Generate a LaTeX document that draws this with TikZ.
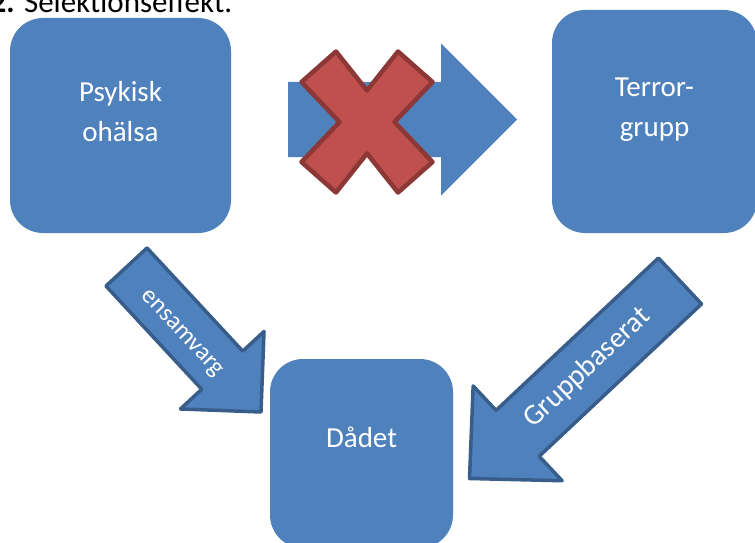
\documentclass[tikz,border=0pt]{standalone}
\usepackage{fontspec}
\setmainfont{Carlito}
\usetikzlibrary{calc}

\definecolor{blaa}{HTML}{4F81BD}
\definecolor{moerkblaa}{HTML}{385D8A}
\definecolor{roed}{HTML}{C0504D}
\definecolor{moerkroed}{HTML}{8C3836}

% blockpil: stil, svans, spets, halv skaftbredd, halv huvudbredd, huvudlangd
\newcommand{\blokpil}[6]{%
  \coordinate (hb) at ($(#3)!#6!(#2)$);
  \draw[#1] ($(#2)!#4!90:(#3)$) -- ($(hb)!#4!90:(#3)$) -- ($(hb)!#5!90:(#3)$) -- (#3)
        -- ($(hb)!#5!-90:(#3)$) -- ($(hb)!#4!-90:(#3)$) -- ($(#2)!#4!-90:(#3)$) -- cycle;}

\begin{document}
\begin{tikzpicture}[x=1pt,y=-1pt,
    ruta/.style={rectangle,rounded corners=33pt,fill=blaa,draw=none,inner sep=0pt},
    rutetext/.style={text=white,align=center,font=\fontsize{29}{40}\selectfont},
    pil/.style={fill=blaa,draw=moerkblaa,line width=3.5pt,line join=round},
    pilplat/.style={fill=blaa,draw=none},
    kryss/.style={fill=roed,draw=moerkroed,line width=4.5pt,line join=round},
    piltext/.style={text=white,inner sep=0pt,font=\fontsize{#1}{#1}\selectfont}]
  \useasboundingbox (0,0) rectangle (755,543);

  \node[anchor=base west,inner sep=0pt,font=\fontsize{31}{31}\selectfont]
       (rubrik) at (-9.5,13) {\textbf{2.} Selektionseffekt.};

  \node[ruta,minimum width=221pt,minimum height=215pt] (psyk)   at (120.5,125.5) {};
  \node[ruta,minimum width=205pt,minimum height=223pt] (terror) at (654.5,121.5) {};
  \node[ruta,minimum width=183pt,minimum height=189pt] (dadet)  at (361.5,453.5) {};

  \node[rutetext] (psykText)   at ([yshift=14pt]psyk.center)   {Psykisk\\ohälsa};
  \node[rutetext] (terrorText) at ([yshift=11.5pt]terror.center) {Terror-\\grupp};
  \node[rutetext] (dadetText)  at ([yshift=16.5pt]dadet.center)  {Dådet};

  % pilarna
  \coordinate (mittStart) at (288,119.5);
  \coordinate (mittSpets) at (517,119.5);
  \coordinate (ensSvans)  at (126.5,267);
  \coordinate (ensSpets)  at (261,412);
  \coordinate (grpSvans)  at (680,281);
  \coordinate (grpSpets)  at (469.5,478.5);
  \coordinate (kors)      at (367,122);

  \blokpil{pilplat}{mittStart}{mittSpets}{37.5pt}{76pt}{76pt}
  \draw[kryss,shift={(kors)}] (-65.5,-40) -- (-31,-70.5) -- (0,-31.5) -- (31,-70.5) -- (65.5,-40)
        -- (27.5,0) -- (65.5,40) -- (31,70.5) -- (0,31.5) -- (-31,70.5) -- (-65.5,40)
        -- (-27.5,0) -- cycle;

  \blokpil{pil}{ensSvans}{ensSpets}{28pt}{57pt}{57pt}
  \blokpil{pil}{grpSvans}{grpSpets}{31.5pt}{65pt}{66pt}

  \node[piltext=25,rotate=-47] (ensText) at ([xshift=-3pt,yshift=-5pt]$(ensSvans)!0.43!(ensSpets)$) {ensamvarg};
  \node[piltext=29,rotate=43]  (grpText) at ($(grpSvans)!0.44!(grpSpets)$) {Gruppbaserat};
\end{tikzpicture}
\end{document}
